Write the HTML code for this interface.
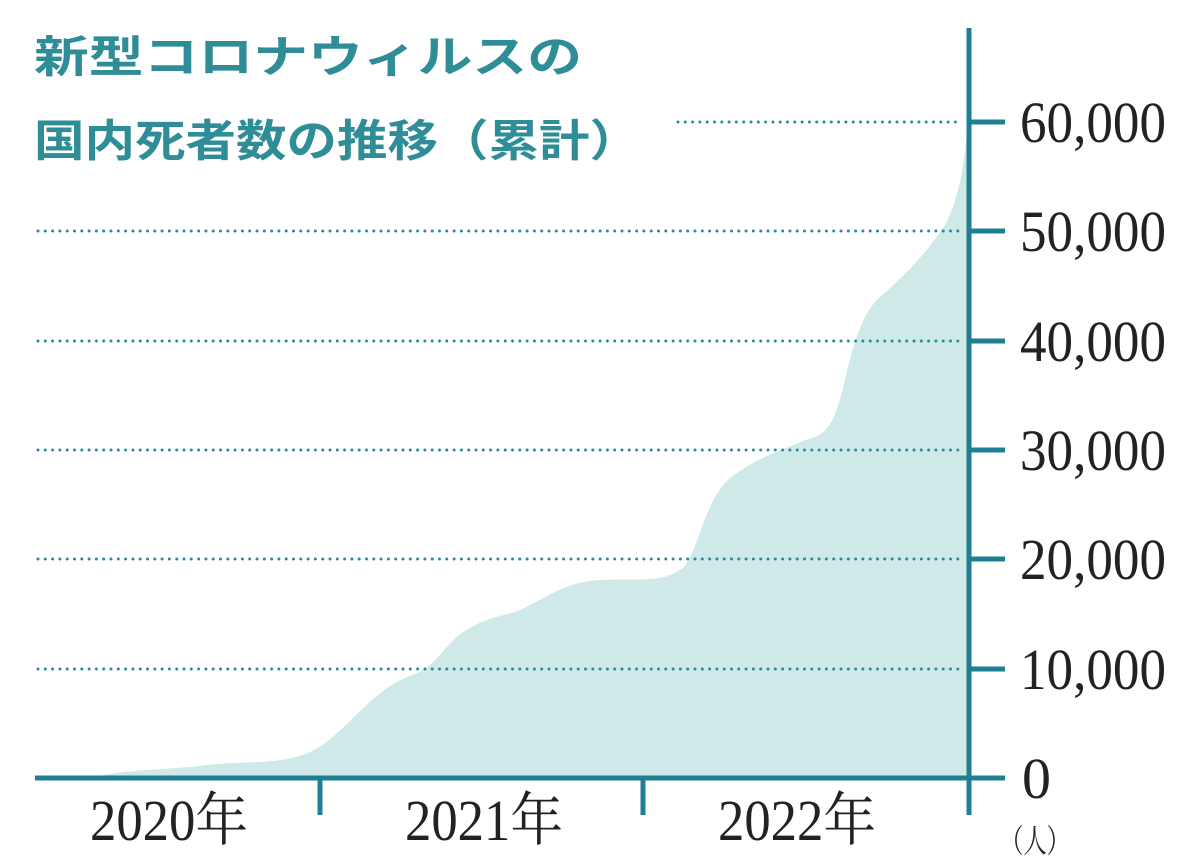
<!DOCTYPE html>
<html><head><meta charset="utf-8"><style>
html,body{margin:0;padding:0;background:#fff;}
svg{display:block}
</style></head><body>
<svg width="1200" height="864" viewBox="0 0 1200 864" xmlns="http://www.w3.org/2000/svg">
<path d="M90,778 C120,770 160,770 200,766 C240,760 280,766 310,752 C340,740 370,690 410,676 C440,666 445,640 470,628 C490,616 505,616 520,610 C550,596 565,582 600,580 C640,578 665,584 685,566 C700,545 705,500 730,478 C760,455 790,448 805,440 C830,435 835,420 845,380 C855,335 865,310 880,297 C905,275 925,255 945,225 C958,200 964,170 967,130 L967,778 Z" fill="#cfe9e9"/>
<g stroke="#2a8b98" stroke-width="3" stroke-linecap="round" stroke-dasharray="0 7.3">
<line x1="678" y1="122" x2="962" y2="122"/>
<line x1="38" y1="231" x2="962" y2="231"/>
<line x1="38" y1="341" x2="962" y2="341"/>
<line x1="38" y1="450" x2="962" y2="450"/>
<line x1="38" y1="559" x2="962" y2="559"/>
<line x1="38" y1="669" x2="962" y2="669"/>
</g>
<g stroke="#1f7f92" stroke-width="5" fill="none">
<line x1="969" y1="28" x2="969" y2="815"/>
<line x1="35" y1="778" x2="969" y2="778"/>
<line x1="320" y1="778" x2="320" y2="815"/>
<line x1="643" y1="778" x2="643" y2="815"/>
<line x1="969" y1="122" x2="1005" y2="122"/>
<line x1="969" y1="231" x2="1005" y2="231"/>
<line x1="969" y1="341" x2="1005" y2="341"/>
<line x1="969" y1="450" x2="1005" y2="450"/>
<line x1="969" y1="559" x2="1005" y2="559"/>
<line x1="969" y1="669" x2="1005" y2="669"/>
<line x1="969" y1="778" x2="1005" y2="778"/>
</g>
<g font-family="Liberation Serif, Noto Serif CJK SC, serif" font-size="58" fill="#222">
<text x="1020" y="142" textLength="146" lengthAdjust="spacingAndGlyphs">60,000</text>
<text x="1020" y="251" textLength="146" lengthAdjust="spacingAndGlyphs">50,000</text>
<text x="1020" y="361" textLength="146" lengthAdjust="spacingAndGlyphs">40,000</text>
<text x="1020" y="470" textLength="146" lengthAdjust="spacingAndGlyphs">30,000</text>
<text x="1020" y="579" textLength="146" lengthAdjust="spacingAndGlyphs">20,000</text>
<text x="1020" y="689" textLength="146" lengthAdjust="spacingAndGlyphs">10,000</text>
<text x="1022" y="798">0</text>
<text x="90" y="840" textLength="158" lengthAdjust="spacingAndGlyphs">2020年</text>
<text x="405" y="840" textLength="158" lengthAdjust="spacingAndGlyphs">2021年</text>
<text x="718" y="840" textLength="158" lengthAdjust="spacingAndGlyphs">2022年</text>
<text x="1000" y="852" font-size="32" textLength="70" lengthAdjust="spacingAndGlyphs">（人）</text>
</g>
<g font-family="Liberation Sans, Noto Sans CJK JP, sans-serif" font-weight="bold" font-size="44" fill="#2e8d96">
<text x="34" y="72" textLength="548" lengthAdjust="spacingAndGlyphs">新型コロナウィルスの</text>
<text x="34" y="156" textLength="606" lengthAdjust="spacingAndGlyphs">国内死者数の推移（累計）</text>
</g>
</svg>
</body></html>
